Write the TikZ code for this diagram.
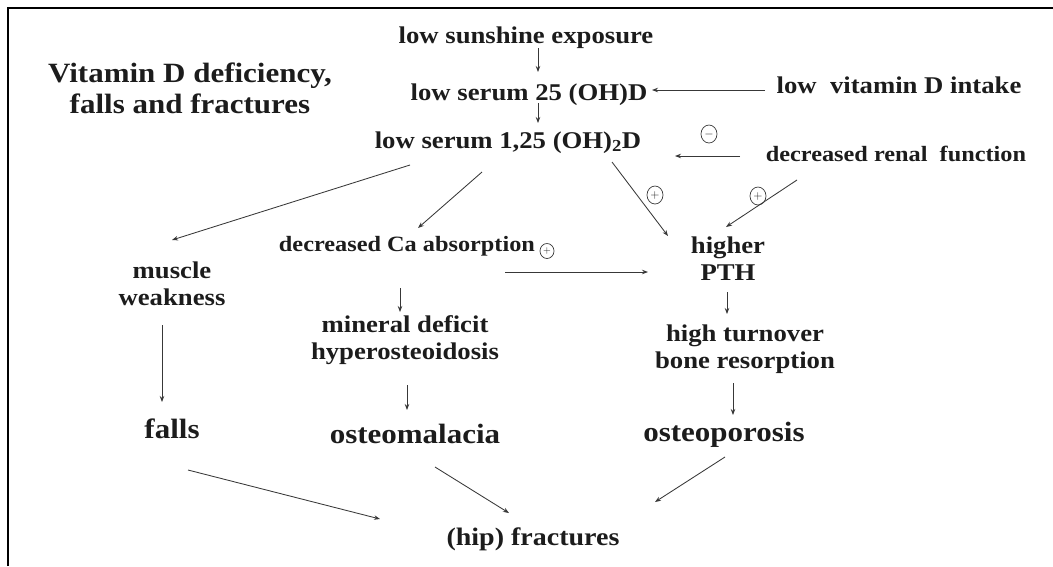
\documentclass[tikz,border=0pt]{standalone}
\usepackage{fontspec}
\setmainfont{Liberation Serif}
\usepackage{graphicx}
\usetikzlibrary{arrows.meta}
\definecolor{ink}{HTML}{1C1C1C}
\definecolor{lineink}{HTML}{383838}
\newcommand\lbl[1]{\scalebox{1}[0.9]{\begin{tabular}{@{}c@{}}#1\end{tabular}}}
\tikzset{
  txt/.style={inner sep=0pt, text=ink, font=\bfseries\fontsize{26.7}{30}\selectfont},
  txtsm/.style={inner sep=0pt, text=ink, font=\bfseries\fontsize{24.3}{27}\selectfont},
  txtbig/.style={inner sep=0pt, text=ink, font=\bfseries\fontsize{31}{34.5}\selectfont},
  arr/.style={draw=lineink, line width=0.85pt, -{Stealth[length=6pt,width=4.5pt]}},
  sign/.style={draw=lineink, ellipse, line width=0.7pt, minimum width=16pt, minimum height=18pt, inner sep=0pt, text=ink, font=\fontsize{12}{12}\selectfont},
}
\usetikzlibrary{shapes.geometric}
\begin{document}
\begin{tikzpicture}[x=1pt,y=-1pt]
\useasboundingbox (0,0) rectangle (1053,566);
\draw[line width=2pt, black] (8,566) -- (8,8) -- (1053,8);

\node[txtbig] (title) at (190,92) {\lbl{Vitamin D deficiency,\\falls and fractures}};
\node[txt] (sun) at (526,38) {\lbl{low sunshine exposure}};
\node[txt] (s25) at (529,95) {\lbl{low serum 25 (OH)D}};
\node[txt] (intake) at (899,88) {\lbl{low\ \ vitamin D intake}};
\node[txt] (s125) at (508,143) {\lbl{low serum 1,25 (OH)\textsubscript{2}D}};
\node[txtsm] (renal) at (896,157) {\lbl{decreased renal\ \ function}};
\node[txt] (muscle) at (172,287) {\lbl{muscle\\weakness}};
\node[txtsm] (ca) at (407,247) {\lbl{decreased Ca absorption}};
\node[txt] (pth) at (728,262) {\lbl{higher\\PTH}};
\node[txt] (mineral) at (405,341) {\lbl{mineral deficit\\hyperosteoidosis}};
\node[txt] (turnover) at (745,350) {\lbl{high turnover\\bone resorption}};
\node[txtbig] (falls) at (172,432) {\lbl{falls}};
\node[txtbig] (osteomalacia) at (415,437) {\lbl{osteomalacia}};
\node[txtbig] (osteoporosis) at (724,435) {\lbl{osteoporosis}};
\node[txt, font=\bfseries\fontsize{28}{31}\selectfont] (fractures) at (533,540) {\lbl{(hip) fractures}};

\node[sign] (minus) at (709,134) {$-$};
\node[sign] (plusA) at (655,195) {$+$};
\node[sign] (plusB) at (758,196) {$+$};
\node[sign, minimum width=14pt, minimum height=15pt, font=\fontsize{10}{10}\selectfont] (plusC) at (547,251) {$+$};

\draw[arr] ([shift={(12,10)}]sun.center) -- ([shift={(9,-23)}]s25.center);
\draw[arr] ([shift={(9,8)}]s25.center) -- ([shift={(30,-20)}]s125.center);
\draw[arr] ([shift={(-134,2)}]intake.center) -- ([shift={(123,-5)}]s25.center);
\draw[arr] ([shift={(-156,-1)}]renal.center) -- ([shift={(167,13)}]s125.center);
\draw[arr] ([shift={(-98,22)}]s125.center) -- ([shift={(0,-47)}]muscle.center);
\draw[arr] ([shift={(-26,29)}]s125.center) -- ([shift={(11,-19)}]ca.center);
\draw[arr] ([shift={(104,19)}]s125.center) -- ([shift={(-60,-26)}]pth.center);
\draw[arr] ([shift={(-99,23)}]renal.center) -- ([shift={(-2,-35)}]pth.center);
\draw[arr] ([shift={(98,25)}]ca.center) -- ([shift={(-80,10)}]pth.center);
\draw[arr] ([shift={(-7,41)}]ca.center) -- ([shift={(-5,-29)}]mineral.center);
\draw[arr] ([shift={(-1,30)}]pth.center) -- ([shift={(-18,-36)}]turnover.center);
\draw[arr] ([shift={(-10,38)}]muscle.center) -- ([shift={(-10,-30)}]falls.center);
\draw[arr] ([shift={(2,44)}]mineral.center) -- ([shift={(-8,-27)}]osteomalacia.center);
\draw[arr] ([shift={(-12,33)}]turnover.center) -- ([shift={(9,-20)}]osteoporosis.center);
\draw[arr] ([shift={(16,38)}]falls.center) -- ([shift={(-153,-21)}]fractures.center);
\draw[arr] ([shift={(20,30)}]osteomalacia.center) -- ([shift={(-24,-27)}]fractures.center);
\draw[arr] ([shift={(1,22)}]osteoporosis.center) -- ([shift={(122,-38)}]fractures.center);
\end{tikzpicture}
\end{document}
